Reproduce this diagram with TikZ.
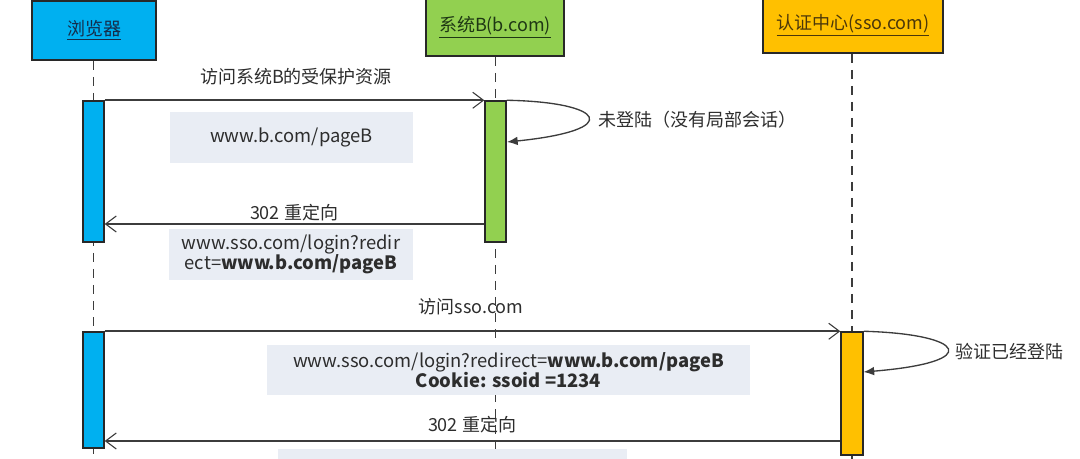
\documentclass[tikz,border=0pt]{standalone}
\usepackage{fontspec}
\setmainfont{Noto Sans CJK SC}
\usetikzlibrary{arrows.meta}
\definecolor{cblue}{RGB}{0,176,240}
\definecolor{cgreen}{RGB}{146,208,80}
\definecolor{cgold}{RGB}{255,192,0}
\definecolor{cnote}{RGB}{233,237,244}
\definecolor{cline}{RGB}{60,60,60}
\definecolor{ctext}{RGB}{45,45,45}
\definecolor{cborder}{RGB}{40,40,40}
\begin{document}
\begin{tikzpicture}[x=0.75pt,y=-0.75pt,
  font=\fontsize{13.5}{16}\selectfont,
  hdr/.style={draw=cborder,line width=1.5pt,inner sep=0pt},
  bar/.style={draw=cborder,line width=1.1pt,inner sep=0pt,minimum width=15.75pt},
  life/.style={draw=cline,line width=1.4pt,dash pattern=on 7pt off 5pt},
  msg/.style={draw=cline,line width=1.3pt,-{Straight Barb[length=8pt,width=12pt,line width=0.8pt]}},
  selfmsg/.style={draw=cline,line width=1pt,-{Latex[length=8pt,width=6.5pt]}},
  lbl/.style={text=ctext,inner sep=0pt},
  note/.style={fill=cnote,inner sep=0pt,text=ctext,align=center,font=\fontsize{13.8}{15}\selectfont}
]
\useasboundingbox (0,0) rectangle (1080,459);
\clip (0,0) rectangle (1080,459);

% headers
\node (br) [hdr,fill=cblue,minimum width=93pt,minimum height=44.25pt,text={rgb,255:red,20;green,45;blue,75}] at (94,30.5) {\underline{浏览器}};
\node (sb) [hdr,fill=cgreen,minimum width=103.5pt,minimum height=43.5pt,text={rgb,255:red,30;green,55;blue,20}] at (495,27) {\underline{系统B(b.com)}};
\node (ss) [hdr,fill=cgold,minimum width=135pt,minimum height=41.25pt,text={rgb,255:red,75;green,55;blue,10}] at (853,25.5) {\underline{认证中心(sso.com)}};

% lifeline ends
\coordinate (brend) at (93.5,462);
\coordinate (sbend) at (495.5,462);
\coordinate (ssend) at (852,462);
\draw[life] (br.south -| brend) -- (brend);
\draw[life] (sb.south -| sbend) -- (sbend);
\draw[life] (ss.south -| ssend) -- (ssend);

% activation bars
\node (b1) [bar,fill=cblue,minimum height=105.75pt] at (93.5,171.5) {};
\node (g1) [bar,fill=cgreen,minimum height=105.75pt] at (495.5,171.5) {};
\node (b2) [bar,fill=cblue,minimum height=87pt] at (93.5,390) {};
\node (o1) [bar,fill=cgold,minimum height=92.25pt,minimum width=16.5pt] at (852,393.5) {};

% notes
\node (n1) [note,minimum width=182.25pt,minimum height=38.25pt] at (291.5,137.5) {www.b.com/pageB};
\node (n2) [note,minimum width=183pt,minimum height=38.25pt] at (291,254.5) {www.sso.com/login?redir\\ect=\textbf{www.b.com/pageB}};
\node (n3) [note,minimum width=362.25pt,minimum height=37.5pt] at (508.5,370) {www.sso.com/login?redirect=\textbf{www.b.com/pageB}\\\textbf{Cookie: ssoid =1234}};
\node (n4) [note,minimum width=261.75pt,minimum height=19.5pt] at (452.5,462) {};

% messages
\coordinate (y1) at (0,224);
\coordinate (y2) at (0,441);
\draw[msg] (b1.north east) -- (g1.north west);
\draw[msg] (g1.west |- y1) -- (b1.east |- y1);
\draw[msg] (b2.north east) -- (o1.north west);
\draw[msg] (o1.west |- y2) -- (b2.east |- y2);

% self messages
\coordinate (g1r) at (507,142);
\coordinate (o1r) at (863.5,372);
\draw[selfmsg] (g1.north east) .. controls (605,102) and (625,130) .. (g1r);
\draw[selfmsg] (o1.north east) .. controls (965,334) and (985,362) .. (o1r);

% labels
\node (l1) [lbl] at (296,77) {访问系统B的受保护资源};
\node (l2) [lbl] at (294,213) {302 重定向};
\node (l3) [lbl,anchor=west] at (598,120) {未登陆（没有局部会话）};
\node (l4) [lbl] at (471,307) {访问sso.com};
\node (l5) [lbl,anchor=west] at (955,352) {验证已经登陆};
\node (l6) [lbl] at (472,425) {302 重定向};
\end{tikzpicture}
\end{document}
